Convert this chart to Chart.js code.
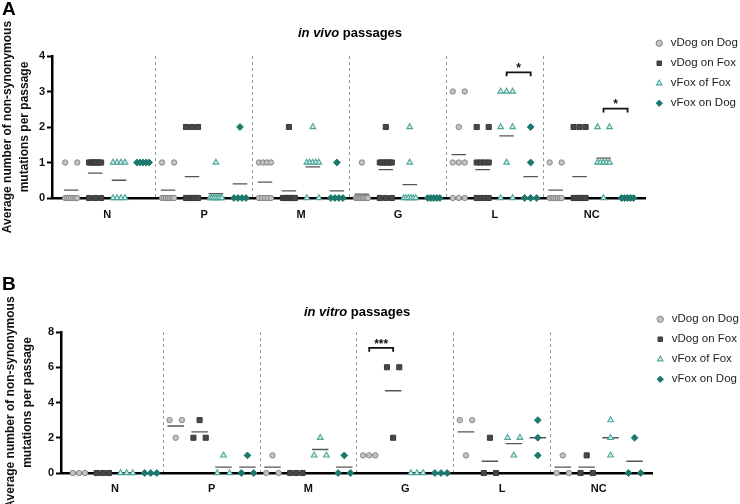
<!DOCTYPE html>
<html><head><meta charset="utf-8">
<script src="https://cdn.jsdelivr.net/npm/chart.js@4.4.1/dist/chart.umd.min.js"></script>
<style>
html,body{margin:0;padding:0;background:#fff;}
body{width:740px;height:504px;position:relative;overflow:hidden;font-family:"Liberation Sans",Arial,sans-serif;}
canvas{position:absolute;left:0;}
#cA{top:0}
#cB{top:252px}
.lbl{position:absolute;font-weight:bold;color:#000;}
.panel{font-size:19px;left:2px;}
.ttl{font-size:13px;transform:translateX(-50%);white-space:nowrap;}
</style></head><body>
<canvas id="cA" width="740" height="252"></canvas>
<canvas id="cB" width="740" height="252"></canvas>
<div class="lbl panel" style="top:-2px">A</div>
<div class="lbl panel" style="top:273px">B</div>
<div class="lbl ttl" style="left:350px;top:25px"><i>in vivo</i> passages</div>
<div class="lbl ttl" style="left:357px;top:304px"><i>in vitro</i> passages</div>
<script>
// ---------- data ----------
const genes = ['N', 'P', 'M', 'G', 'L', 'NC'];
const seriesNames = ['vDog on Dog', 'vDog on Fox', 'vFox of Fox', 'vFox on Dog'];
const yTitle = ['Average number of non-synonymous', 'mutations per passage'];

// A: in vivo passages (values per gene, one entry per passage line)
const vivoDogOnDog = [
  [1,1,0,0,0,0,0,0,0],
  [1,1,0,0,0,0,0,0,0],
  [1,1,1,1,0,0,0,0,0],
  [1,0,0,0,0,0,0,0,0],
  [3,3,2,1,1,1,0,0,0],
  [1,1,0,0,0,0,0,0,0]
];
const vivoDogOnFox = [
  [1,1,1,1,1,1,1,0,0,0],
  [2,2,2,0,0,0,0,0,0,0],
  [2,0,0,0,0,0,0,0,0,0],
  [2,1,1,1,1,1,1,0,0,0],
  [2,2,1,1,1,1,0,0,0,0],
  [2,2,2,0,0,0,0,0,0,0]
];
const vivoFoxOfFox = [
  [1,1,1,1,0,0,0,0],
  [1,0,0,0,0,0,0,0],
  [2,1,1,1,1,1,0,0],
  [2,1,0,0,0,0,0,0],
  [3,3,3,2,2,1,0,0],
  [2,2,1,1,1,1,1,0]
];
const vivoFoxOnDog = [
  [1,1,1,1,1],
  [2,0,0,0,0],
  [1,0,0,0,0],
  [0,0,0,0,0],
  [2,1,0,0,0],
  [0,0,0,0,0]
];
const vivoYTicks = [0, 1, 2, 3, 4];
const vivoSig = [
  {gene: 'L', from: 2, to: 3, y: 3.54, label: '*'},
  {gene: 'NC', from: 2, to: 3, y: 2.52, label: '*'}
];

// B: in vitro passages
const vitroDogOnDog = [[0,0,0],[3,3,2],[1,0,0],[1,1,1],[3,3,1],[1,0,0]];
const vitroDogOnFox = [[0,0,0],[3,2,2],[0,0,0],[6,6,2],[2,0,0],[1,0,0]];
const vitroFoxOfFox = [[0,0,0],[1,0,0],[2,1,1],[0,0,0],[2,2,1],[3,2,1]];
const vitroFoxOnDog = [[0,0,0],[1,0,0],[1,0,0],[0,0,0],[3,2,1],[2,0,0]];
const vitroYTicks = [0, 2, 4, 6, 8];
const vitroSig = [
  {gene: 'G', from: 0, to: 1, y: 7.1, label: '***'}
];

// ---------- styling / layout ----------
const FONT = '"Liberation Sans", Arial, sans-serif';
const styles = [
  {pointStyle: 'circle',   bg: '#c3c3c3', bd: '#878787', r: 2.7, bw: 1},
  {pointStyle: 'rect',     bg: '#484848', bd: '#3a3a3a', r: 3.6, bw: 1},
  {pointStyle: 'triangle', bg: '#d9f0ec', bd: '#4ea69b', r: 3.3, bw: 1.1},
  {pointStyle: 'rectRot',  bg: '#1d786d', bd: '#1d786d', r: 3.4, bw: 1}
];
const colOffsets = [-0.372, -0.125, 0.122, 0.37];

function buildPoints(groups, offset, half) {
  const pts = [];
  groups.forEach((vals, gi) => {
    const counts = new Map();
    vals.forEach(v => counts.set(v, (counts.get(v) || 0) + 1));
    counts.forEach((k, v) => {
      for (let j = 0; j < k; j++) {
        const dx = k === 1 ? 0 : -half + 2 * half * j / (k - 1);
        pts.push({x: gi + offset + dx, y: v});
      }
    });
  });
  return pts;
}
function buildMeans(groups, offset, half) {
  const pts = [];
  groups.forEach((vals, gi) => {
    const m = vals.reduce((a, b) => a + b, 0) / vals.length;
    pts.push({x: gi + offset - half, y: m}, {x: gi + offset + half, y: m}, {x: gi + offset + half + 0.01, y: null});
  });
  return pts;
}
function buildBracket(s, legDrop) {
  const gi = genes.indexOf(s.gene);
  const x1 = gi + colOffsets[s.from], x2 = gi + colOffsets[s.to];
  return [{x: x1, y: s.y - legDrop}, {x: x1, y: s.y}, {x: x2, y: s.y}, {x: x2, y: s.y - legDrop}];
}

const fixLegend = {
  id: 'fixLegend',
  beforeLayout(chart, args, opts) {
    const lg = chart.legend;
    if (lg && !lg._fx) {
      const f = lg.fit.bind(lg);
      lg.fit = function () { f(); this.width = opts.width; };
      lg._fx = true;
    }
  },
  afterLayout(chart, args, opts) {
    const lg = chart.legend;
    if (lg && opts.shift) { lg.left += opts.shift; lg.width -= opts.shift; }
  }
};

function makePanel(id, seriesData, yTicks, sig, cfg) {
  const datasets = [];
  seriesData.forEach((groups, si) => {
    const st = styles[si];
    datasets.push({
      type: 'scatter', label: seriesNames[si],
      data: buildPoints(groups, colOffsets[si], cfg.spread),
      pointStyle: st.pointStyle, pointRadius: st.r, pointHoverRadius: st.r,
      backgroundColor: st.bg, borderColor: st.bd, pointBorderWidth: st.bw, borderWidth: st.bw,
      clip: false, order: 0
    });
  });
  seriesData.forEach((groups, si) => {
    datasets.push({
      type: 'line', label: 'mean ' + seriesNames[si],
      data: buildMeans(groups, colOffsets[si], cfg.meanHalf),
      borderColor: '#555', borderWidth: 1.3, pointRadius: 0, spanGaps: false,
      fill: false, clip: false, order: 1
    });
  });
  sig.forEach(s => {
    datasets.push({
      type: 'line', label: 'sig ' + s.gene,
      data: buildBracket(s, cfg.legDrop),
      borderColor: '#111', borderWidth: 1.8, pointRadius: 0, fill: false,
      clip: false, order: 1, tension: 0
    });
  });

  const sigText = {
    id: 'sigText',
    afterDatasetsDraw(chart) {
      const {ctx, scales} = chart;
      ctx.save();
      ctx.fillStyle = '#111';
      ctx.font = 'bold 12px ' + FONT;
      ctx.textAlign = 'center';
      ctx.textBaseline = 'middle';
      sig.forEach(s => {
        const gi = genes.indexOf(s.gene);
        const cx = gi + (colOffsets[s.from] + colOffsets[s.to]) / 2;
        ctx.fillText(s.label, scales.x.getPixelForValue(cx), scales.y.getPixelForValue(s.y + cfg.starLift));
      });
      ctx.restore();
    }
  };

  return new Chart(document.getElementById(id), {
    type: 'scatter',
    data: {datasets},
    plugins: [fixLegend, sigText],
    options: {
      responsive: false, animation: false, devicePixelRatio: 1, events: [],
      layout: {padding: {top: cfg.padTop, left: 0, right: 0, bottom: cfg.padBottom}},
      plugins: {
        tooltip: {enabled: false},
        title: {display: false},
        fixLegend: {width: cfg.legendWidth, shift: cfg.legendShift},
        legend: {
          display: true, position: 'right', align: 'start', fullSize: true,
          labels: {
            usePointStyle: true, boxHeight: 4.5, padding: 8.5, color: '#222',
            font: {family: FONT, size: 11.5},
            filter: (item) => item.datasetIndex < 4
          }
        }
      },
      scales: {
        x: {
          type: 'linear', position: 'bottom', min: cfg.xMin, max: cfg.xMax,
          afterBuildTicks: (s) => { s.ticks = genes.map((g, i) => ({value: i})); },
          ticks: {autoSkip: false, maxRotation: 0, padding: cfg.xLabelPad, color: '#111',
                  font: {family: FONT, size: 11, weight: 'bold'},
                  callback: (v) => genes[Math.round(v)]},
          grid: {display: false},
          border: {display: true, color: '#000', width: 2.5},
          afterFit: (s) => { s.height = 30; }
        },
        xd: {
          type: 'linear', axis: 'x', position: 'top', min: cfg.xMin, max: cfg.xMax,
          afterBuildTicks: (s) => { s.ticks = genes.slice(1).map((g, i) => ({value: i + 0.5})); },
          ticks: {display: false},
          grid: {display: true, drawOnChartArea: true, drawTicks: false, color: '#9a9a9a', lineWidth: 1},
          border: {display: false, dash: [3, 3]},
          afterFit: (s) => { s.height = cfg.topGap; }
        },
        y: {
          type: 'linear', position: 'left', min: yTicks[0], max: yTicks[yTicks.length - 1],
          afterBuildTicks: (s) => { s.ticks = yTicks.map(v => ({value: v})); },
          ticks: {padding: 2, color: '#111', font: {family: FONT, size: 11, weight: 'bold'}},
          grid: {display: true, drawOnChartArea: false, drawTicks: true, tickLength: 5, tickWidth: 2, color: '#000'},
          border: {display: true, color: '#000', width: 2.5},
          title: {display: true, text: yTitle, color: '#111',
                  font: {family: FONT, size: 12, weight: 'bold', lineHeight: 1.35},
                  padding: {top: cfg.titlePad, bottom: 0}},
          afterFit: (s) => { s.width = cfg.yWidth; }
        }
      }
    }
  });
}

makePanel('cA', [vivoDogOnDog, vivoDogOnFox, vivoFoxOfFox, vivoFoxOnDog], vivoYTicks, vivoSig, {
  xMin: -0.57, xMax: 5.55, spread: 0.062, meanHalf: 0.075, legDrop: 0.11, starLift: 0.1,
  padTop: 29, padBottom: 24, topGap: 27, yWidth: 52, titlePad: 0, xLabelPad: 2,
  legendWidth: 95, legendShift: 0
});
makePanel('cB', [vitroDogOnDog, vitroDogOnFox, vitroFoxOfFox, vitroFoxOnDog], vitroYTicks, vitroSig, {
  xMin: -0.557, xMax: 5.55, spread: 0.0635, meanHalf: 0.085, legDrop: 0.22, starLift: 0.2,
  padTop: 53, padBottom: 1, topGap: 27, yWidth: 61, titlePad: 3, xLabelPad: 1,
  legendWidth: 88, legendShift: -6
});
</script>
</body></html>
